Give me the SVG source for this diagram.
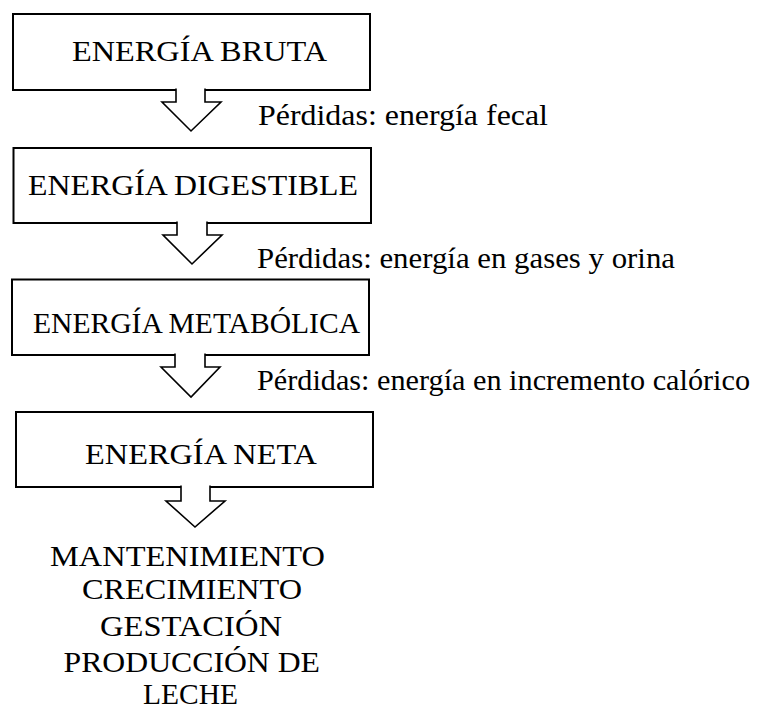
<svg xmlns="http://www.w3.org/2000/svg" width="781" height="711" viewBox="0 0 781 711">
<style>
.box{fill:#fff;stroke:#000;stroke-width:2}
.arr{fill:#fff;stroke:#000;stroke-width:1.6;stroke-linejoin:miter}
text{font-family:"Liberation Serif","Times New Roman",serif;font-size:29px;fill:#000}
</style>
<rect width="781" height="711" fill="#fff"/>
<g id="n1"><rect class="box" x="13" y="14" width="357" height="76"/><text x="72" y="61" textLength="255" lengthAdjust="spacingAndGlyphs">ENERGÍA BRUTA</text></g>
<g id="n2"><rect class="box" x="13.5" y="148" width="357.5" height="75"/><text x="28" y="195" textLength="330" lengthAdjust="spacingAndGlyphs">ENERGÍA DIGESTIBLE</text></g>
<g id="n3"><rect class="box" x="12" y="279.5" width="357" height="75.5"/><text x="33" y="332.5" textLength="327" lengthAdjust="spacingAndGlyphs">ENERGÍA METABÓLICA</text></g>
<g id="n4"><rect class="box" x="16" y="412" width="357" height="75"/><text x="85" y="464" textLength="232" lengthAdjust="spacingAndGlyphs">ENERGÍA NETA</text></g>
<g id="connectors">
<path class="arr" d="M176,88.5 V102 H162 L191,131 L221,102 H205 V88.5"/>
<path class="arr" d="M177,221.5 V235 H163 L192,264 L222,235 H207 V221.5"/>
<path class="arr" d="M175,353.5 V367 H161 L191,397 L220,367 H205 V353.5"/>
<path class="arr" d="M181,485.5 V501 H166 L195,527 L225,501 H210 V485.5"/>
</g>
<g id="labels">
<text x="258" y="125" textLength="290" lengthAdjust="spacingAndGlyphs">Pérdidas: energía fecal</text>
<text x="257" y="268" textLength="418" lengthAdjust="spacingAndGlyphs">Pérdidas: energía en gases y orina</text>
<text x="257" y="390" textLength="493" lengthAdjust="spacingAndGlyphs">Pérdidas: energía en incremento calórico</text>
</g>
<g id="out">
<text x="50" y="566" textLength="275" lengthAdjust="spacingAndGlyphs">MANTENIMIENTO</text>
<text x="82" y="599" textLength="220" lengthAdjust="spacingAndGlyphs">CRECIMIENTO</text>
<text x="100" y="636" textLength="182" lengthAdjust="spacingAndGlyphs">GESTACIÓN</text>
<text x="63.5" y="672" textLength="256.5" lengthAdjust="spacingAndGlyphs">PRODUCCIÓN DE</text>
<text x="143" y="704" textLength="95" lengthAdjust="spacingAndGlyphs">LECHE</text>
</g>
</svg>
